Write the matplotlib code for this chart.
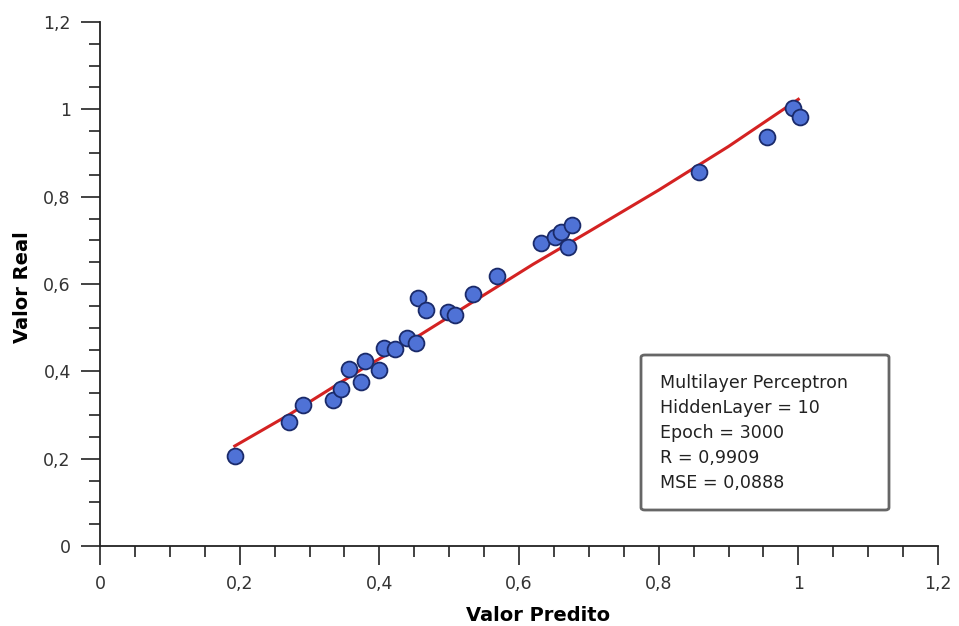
import matplotlib
matplotlib.use("Agg")
import matplotlib.pyplot as plt
from matplotlib.ticker import MultipleLocator, FuncFormatter
from matplotlib.patches import FancyBboxPatch

# Data
pred = [0.193, 0.270, 0.291, 0.333, 0.345, 0.356, 0.374, 0.379, 0.399, 0.406,
        0.422, 0.440, 0.452, 0.455, 0.467, 0.498, 0.508, 0.534, 0.568,
        0.632, 0.651, 0.660, 0.670, 0.676, 0.858, 0.955, 0.992, 1.002]
real = [0.205, 0.284, 0.322, 0.334, 0.359, 0.406, 0.375, 0.424, 0.403, 0.453,
        0.451, 0.476, 0.465, 0.567, 0.541, 0.535, 0.530, 0.577, 0.618,
        0.695, 0.707, 0.718, 0.684, 0.736, 0.856, 0.936, 1.003, 0.982]

fit_x = [0.193, 0.27, 0.33, 0.38, 0.45, 0.53, 0.62, 0.70, 0.80, 0.90, 1.0]
fit_y = [0.229, 0.30, 0.36, 0.41, 0.475, 0.555, 0.645, 0.72, 0.815, 0.915, 1.023]

info_lines = ["Multilayer Perceptron", "HiddenLayer = 10", "Epoch = 3000",
              "R = 0,9909", "MSE = 0,0888"]

W, H = 959, 626
fig = plt.figure(figsize=(W / 100, H / 100), dpi=100)
ax = fig.add_axes([100 / W, (H - 546) / H, (938 - 100) / W, (546 - 22) / H])

ax.plot(fit_x, fit_y, color="#d42222", lw=2.2, zorder=2)
ax.scatter(pred, real, s=130, facecolor="#4f72d6", edgecolor="#1a2a6a",
           linewidths=1.3, zorder=3)

ax.set_xlim(0, 1.2)
ax.set_ylim(0, 1.2)
ax.xaxis.set_major_locator(MultipleLocator(0.2))
ax.yaxis.set_major_locator(MultipleLocator(0.2))
ax.xaxis.set_minor_locator(MultipleLocator(0.05))
ax.yaxis.set_minor_locator(MultipleLocator(0.05))


def fmt(v, pos):
    s = f"{v:.1f}"
    if s.endswith(".0"):
        s = s[:-2]
    return s.replace(".", ",")


ax.xaxis.set_major_formatter(FuncFormatter(fmt))
ax.yaxis.set_major_formatter(FuncFormatter(fmt))

for sp in ["top", "right"]:
    ax.spines[sp].set_visible(False)
for sp in ["left", "bottom"]:
    ax.spines[sp].set_linewidth(1.3)
    ax.spines[sp].set_color("#222222")

ax.tick_params(which="major", length=14, width=1.2, color="#222222",
               labelsize=12.5, labelcolor="#333333", pad=7)
ax.tick_params(which="minor", length=8, width=1.2, color="#222222")

ax.set_xlabel("Valor Predito", fontsize=14, fontweight="bold", labelpad=5)
ax.xaxis.set_label_coords((538 - 100) / (938 - 100), -0.115)
ax.set_ylabel("Valor Real", fontsize=14, fontweight="bold", labelpad=8)
ax.yaxis.set_label_coords(-(100 - 32) / (938 - 100), (546 - 287) / (546 - 22))

# info box in figure pixel coordinates (converted to figure fraction)
bx0, bx1, by0, by1 = 641, 889, 355, 510
box = FancyBboxPatch((bx0 / W, 1 - by1 / H), (bx1 - bx0) / W, (by1 - by0) / H,
                     boxstyle="round,pad=0,rounding_size=0.004",
                     transform=fig.transFigure, facecolor="white",
                     edgecolor="#666666", linewidth=2, zorder=5)
fig.patches.append(box)
for i, line in enumerate(info_lines):
    fig.text(660 / W, 1 - (383 + 25 * i) / H, line, fontsize=12.6,
             color="#222222", va="center", ha="left", zorder=6)

fig.savefig("out.png", dpi=100)
